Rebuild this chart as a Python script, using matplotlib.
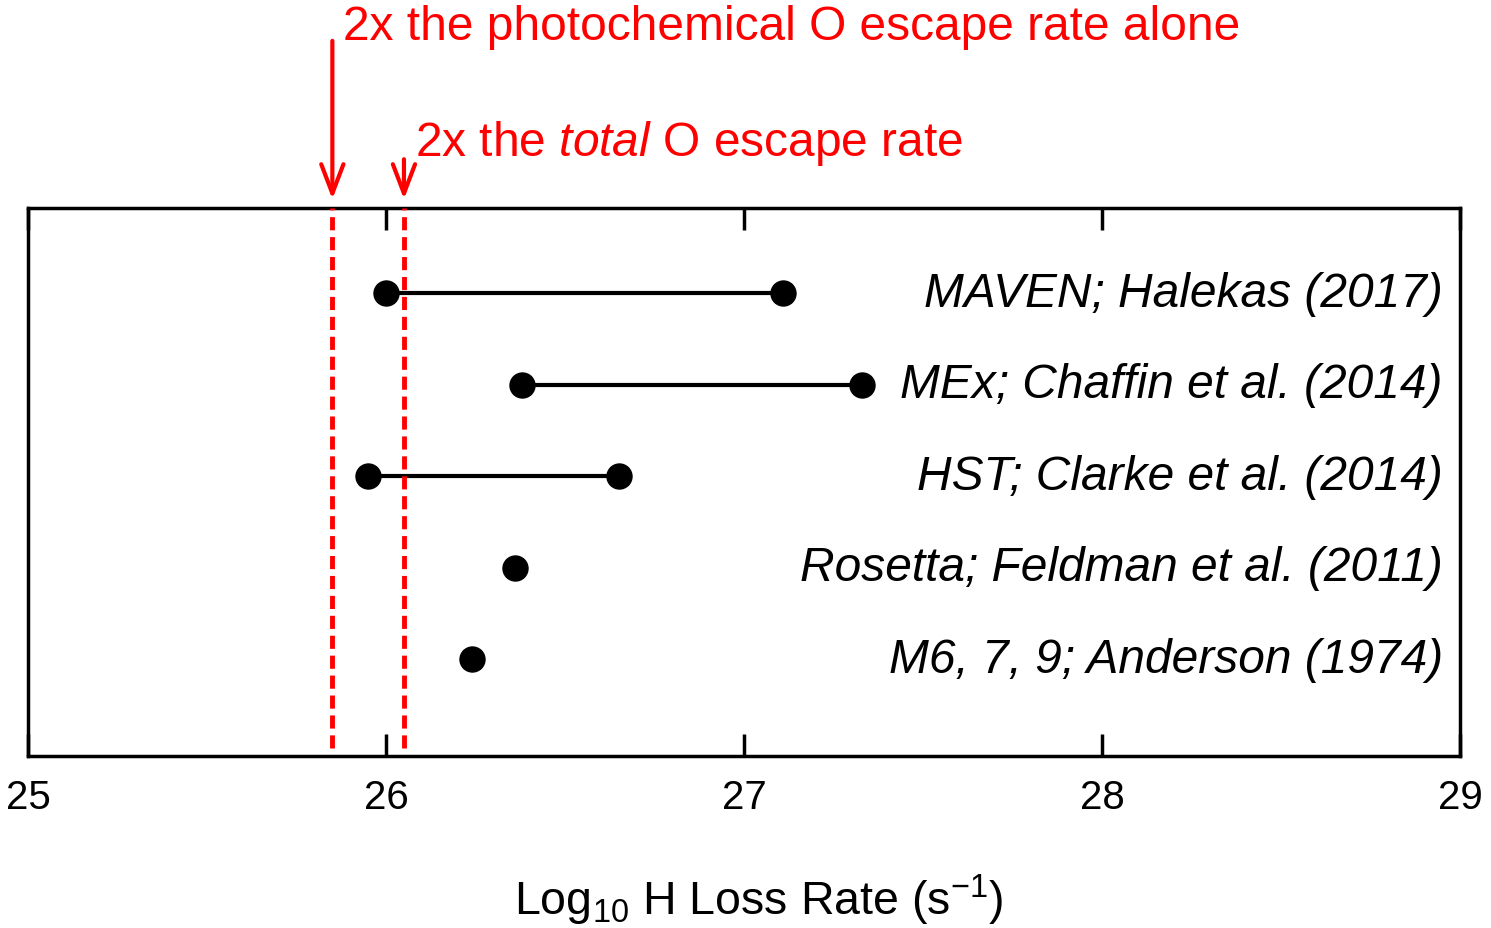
import matplotlib.pyplot as plt
import matplotlib.transforms as mtransforms

plt.rcParams['font.family'] = ['Liberation Sans', 'DejaVu Sans']
plt.rcParams['mathtext.fontset'] = 'custom'
plt.rcParams['mathtext.rm'] = 'Liberation Sans'
plt.rcParams['mathtext.it'] = 'Liberation Sans:italic'

# observations, top to bottom
labels = ['MAVEN; Halekas (2017)', 'MEx; Chaffin et al. (2014)',
          'HST; Clarke et al. (2014)', 'Rosetta; Feldman et al. (2011)',
          'M6, 7, 9; Anderson (1974)']
low = [26.00, 26.38, 25.95, 26.36, 26.24]
high = [27.11, 27.33, 26.65, None, None]
rows = [5, 4, 3, 2, 1]

# 2x O escape rates
o_photochem = 25.85
o_total = 26.05

xticks = [25, 26, 27, 28, 29]


def main():
    fig = plt.figure(figsize=(14.91, 9.29), dpi=100)
    ax = fig.add_axes([0.0188, 0.185, 0.9605, 0.590])

    for y, lo, hi in zip(rows, low, high):
        if hi is not None:
            ax.plot([lo, hi], [y, y], color='black', lw=3, zorder=2)
            ax.plot([lo, hi], [y, y], 'o', color='black', ms=18, zorder=3)
        else:
            ax.plot([lo], [y], 'o', color='black', ms=18, zorder=3)

    for y, lab in zip(rows, labels):
        ax.text(0.988, y, lab, transform=ax.get_yaxis_transform(),
                ha='right', va='center', fontsize=34.5, style='italic')

    for xv in (o_photochem, o_total):
        ax.axvline(xv, ymin=0.015, ymax=1, color='red', lw=3.5,
                   dashes=(2.7, 1.4), zorder=4)

    # arrows + notes above the box
    trans = mtransforms.blended_transform_factory(ax.transData, ax.transAxes)
    head = '->,head_length=2.1,head_width=0.8'
    ax.annotate('', xy=(o_photochem, 1.016), xytext=(o_photochem, 1.305),
                xycoords=trans, textcoords=trans, annotation_clip=False,
                arrowprops=dict(arrowstyle=head, color='red', lw=3,
                                shrinkA=0, shrinkB=0))
    ax.annotate('', xy=(o_total, 1.016), xytext=(o_total, 1.089),
                xycoords=trans, textcoords=trans, annotation_clip=False,
                arrowprops=dict(arrowstyle=head, color='red', lw=3,
                                shrinkA=0, shrinkB=0))
    ax.text(25.88, 1.332, '2x the photochemical O escape rate alone',
            transform=trans, color='red', fontsize=34.5, ha='left', va='center')
    ax.text(26.081, 1.12, r'2x the $\it{total}$ O escape rate',
            transform=trans, color='red', fontsize=34.5, ha='left', va='center')

    ax.set_xlim(25, 29)
    ax.set_ylim(-0.06, 5.93)
    ax.set_xticks(xticks)
    ax.set_yticks([])
    ax.tick_params(axis='x', direction='in', length=16, width=2.5,
                   top=True, labelsize=29, pad=16)
    for s in ax.spines.values():
        s.set_linewidth(2.5)

    ax.set_xlabel(r'Log$_{10}$ H Loss Rate (s$^{\mathrm{-1}}$)', fontsize=33.5,
                  va='center')
    ax.xaxis.set_label_coords(0.51, -0.262)

    fig.savefig('out.png', dpi=100)


if __name__ == "__main__":
    main()
